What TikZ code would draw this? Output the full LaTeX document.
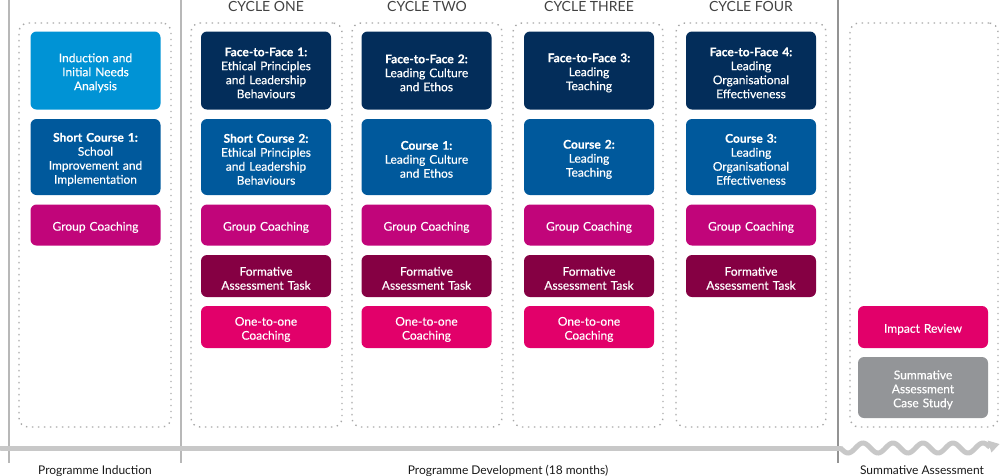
\documentclass[tikz,border=0pt]{standalone}
\usepackage{fontspec}
\setmainfont{Lato}
\newfontfamily\boxfont{Lato}[FakeBold=0.35]
\usetikzlibrary{arrows.meta}
\definecolor{cLight}{HTML}{0093D5}
\definecolor{cNavy}{HTML}{032D5A}
\definecolor{cBlue}{HTML}{00599C}
\definecolor{cMag}{HTML}{C1057A}
\definecolor{cMaroon}{HTML}{850043}
\definecolor{cPink}{HTML}{E2006A}
\definecolor{cGrey}{HTML}{939598}
\definecolor{cDot}{HTML}{A8A8A8}
\definecolor{cSep}{HTML}{B8B8B8}
\definecolor{cBar}{HTML}{C8C8C8}
\definecolor{cHead}{HTML}{424242}
\begin{document}
\begin{tikzpicture}[x=1pt,y=-1pt,
  box/.style={rounded corners=6pt, inner xsep=2pt, inner ysep=0pt, text width=126pt,
    align=center, text=white, font=\boxfont\fontsize{12}{14}\selectfont, minimum width=130pt,
    execute at begin node={\rule{0pt}{13.5pt}}},
  tall/.style={box, minimum height=78pt},
  mid/.style={box, minimum height=76pt},
  short/.style={box, minimum height=41pt},
  dotbox/.style={draw=cDot, line width=1.4pt, dash pattern=on 1.4pt off 4.6pt,
    rounded corners=9pt, inner sep=0pt},
  sep/.style={draw=cSep, line width=2pt},
  head/.style={font=\fontsize{14}{16}\selectfont, text=cHead},
  foot/.style={font=\fontsize{12}{14}\selectfont, text=black!90, anchor=base}]
\useasboundingbox (0,0) rectangle (1000,475);

% separators
\coordinate (s1t) at (9,0);   \coordinate (s1b) at (9,463);
\coordinate (s2t) at (181,0); \coordinate (s2b) at (181,463);
\coordinate (s3t) at (838,0); \coordinate (s3b) at (838,463);
\draw[sep] (s1t) -- (s1b);
\draw[sep] (s2t) -- (s2b);
\draw[draw=cSep!80!black, line width=1.3pt] (s3t) -- (s3b);

% time bar
\coordinate (b0) at (1,448);
\coordinate (b1) at (840.5,448);
\draw[cBar, line width=5pt, line cap=round] (b0) -- (b1);
\draw[cBar, line width=5pt]
  plot[smooth, domain=0:149.5, samples=100] ({\x+840.5}, {448+5*sin(\x*12)});
\coordinate (t1) at (999.5,444);
\coordinate (t2) at (987.6,440.5);
\coordinate (t3) at (991.4,452.5);
\fill[cBar] (t1) -- (t2) -- (t3) -- cycle;

% dotted containers
\node[dotbox, minimum width=152pt, minimum height=404pt] (d1) at (95,225) {};
\node[dotbox, minimum width=151pt, minimum height=404pt] (d2) at (266.5,225) {};
\node[dotbox, minimum width=150pt, minimum height=404pt] (d3) at (427,225) {};
\node[dotbox, minimum width=150pt, minimum height=404pt] (d4) at (588,225) {};
\node[dotbox, minimum width=150pt, minimum height=404pt] (d5) at (751,225) {};
\node[dotbox, minimum width=148pt, minimum height=404pt] (d6) at (924,225) {};

% headings
\node[head] (h1) at (266,6.5) {CYCLE ONE};
\node[head] (h2) at (427,6.5) {CYCLE TWO};
\node[head] (h3) at (589,6.5) {CYCLE THREE};
\node[head] (h4) at (751,6.5) {CYCLE FOUR};

% column 1
\node[tall, fill=cLight] (a1) at (95.5,70.5) {Induction and\\Initial Needs\\Analysis};
\node[mid, fill=cBlue] (a2) at (95.5,157) {\textbf{Short Course 1:}\\School\\Improvement and\\Implementation};
\node[short, fill=cMag] (a3) at (95.5,225) {Group Coaching};

% column 2
\node[tall, fill=cNavy] (b1n) at (266,70.5) {\textbf{Face-to-Face 1:}\\Ethical Principles\\and Leadership\\Behaviours};
\node[mid, fill=cBlue] (b2n) at (266,157) {\textbf{Short Course 2:}\\Ethical Principles\\and Leadership\\Behaviours};
\node[short, fill=cMag] (b3n) at (266,225) {Group Coaching};
\node[short, fill=cMaroon, minimum height=42pt] (b4n) at (266,276) {Formative\\Assessment Task};
\node[short, fill=cPink, minimum height=42pt] (b5n) at (266,327) {One-to-one\\Coaching};

% column 3
\node[tall, fill=cNavy] (c1n) at (426.5,70.5) {\textbf{Face-to-Face 2:}\\Leading Culture\\and Ethos};
\node[mid, fill=cBlue] (c2n) at (426.5,157) {\textbf{Course 1:}\\Leading Culture\\and Ethos};
\node[short, fill=cMag] (c3n) at (426.5,225) {Group Coaching};
\node[short, fill=cMaroon, minimum height=42pt] (c4n) at (426.5,276) {Formative\\Assessment Task};
\node[short, fill=cPink, minimum height=42pt] (c5n) at (426.5,327) {One-to-one\\Coaching};

% column 4
\node[tall, fill=cNavy] (e1n) at (589,70.5) {\textbf{Face-to-Face 3:}\\Leading\\Teaching};
\node[mid, fill=cBlue] (e2n) at (589,157) {\textbf{Course 2:}\\Leading\\Teaching};
\node[short, fill=cMag] (e3n) at (589,225) {Group Coaching};
\node[short, fill=cMaroon, minimum height=42pt] (e4n) at (589,276) {Formative\\Assessment Task};
\node[short, fill=cPink, minimum height=42pt] (e5n) at (589,327) {One-to-one\\Coaching};

% column 5
\node[tall, fill=cNavy] (f1n) at (751,70.5) {\textbf{Face-to-Face 4:}\\Leading\\Organisational\\Effectiveness};
\node[mid, fill=cBlue] (f2n) at (751,157) {\textbf{Course 3:}\\Leading\\Organisational\\Effectiveness};
\node[short, fill=cMag] (f3n) at (751,225) {Group Coaching};
\node[short, fill=cMaroon, minimum height=42pt] (f4n) at (751,276) {Formative\\Assessment Task};

% summative column
\node[short, fill=cPink, minimum height=42pt] (g1n) at (923,327) {Impact Review};
\node[box, fill=cGrey, minimum height=61pt] (g2n) at (923,387.5) {Summative\\Assessment\\Case Study};

% footers
\node[foot] (p1) at (95,474.3) {Programme Induction};
\node[foot] (p2) at (508,474.3) {Programme Development (18 months)};
\node[foot] (p3) at (922,474.3) {Summative Assessment};
\end{tikzpicture}
\end{document}
